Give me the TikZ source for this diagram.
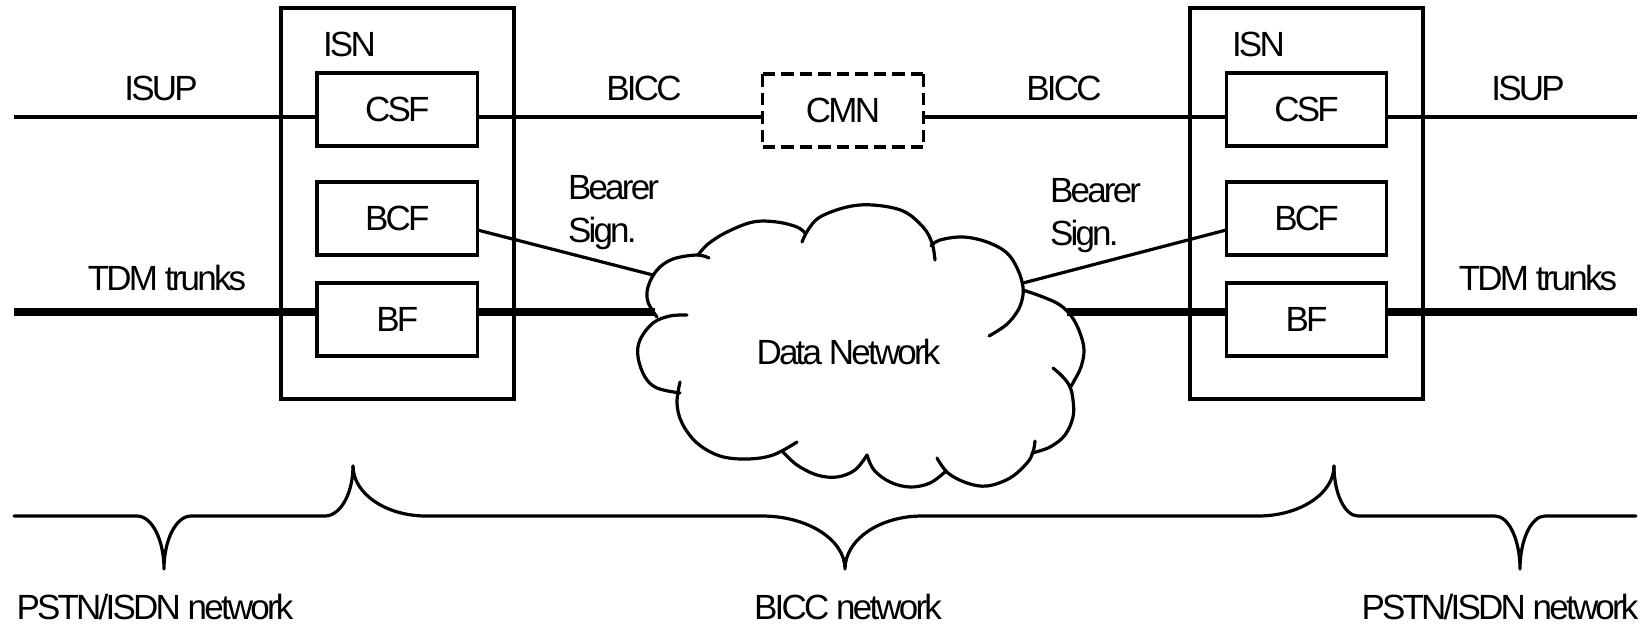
\documentclass[tikz,border=0pt]{standalone}
\usepackage{fontspec}
\setmainfont{Liberation Sans}[LetterSpace=-8.0]
\begin{document}
\begin{tikzpicture}[x=1pt, y=-1pt,
  every node/.style={inner sep=0pt, outer sep=0pt, font=\fontsize{35}{43}\selectfont},
  frame/.style={draw, line width=3.2pt},
  fnbox/.style={frame, minimum width=160.5pt, minimum height=73pt},
  isnbox/.style={frame, minimum width=233pt, minimum height=391pt},
  sigline/.style={line width=3.2pt},
  trunkline/.style={line width=8.5pt},
  cmnedge/.style={line width=3.2pt, dash pattern=on 12.5pt off 6pt},
  cloudline/.style={line width=3.2pt, line cap=round, line join=round},
  braceline/.style={line width=3.2pt, line cap=round, line join=round},
  lbl/.style={anchor=base},
  lblw/.style={anchor=base west, align=left},
]
\fill[white] (0,0) rectangle (1644,625);
\useasboundingbox (0,0) rectangle (1644,625);

% ISN nodes with their functional blocks
\node[isnbox] (isnL) at (397.5,203.5) {};
\node[isnbox] (isnR) at (1306.5,203.5) {};
\node[lblw] (isnLt) at (323,56) {ISN};
\node[lblw] (isnRt) at (1232,56) {ISN};

\node[fnbox] (csfL) at (397.25,109.5) {CSF};
\node[fnbox] (bcfL) at (397.25,218.5) {BCF};
\node[fnbox] (bfL)  at (397.25,319.5) {BF};
\node[fnbox] (csfR) at (1306.5,109.5) {CSF};
\node[fnbox] (bcfR) at (1306.5,218.5) {BCF};
\node[fnbox] (bfR)  at (1306.5,319.5) {BF};

% optional call mediation node (dashed)
\node[minimum width=160.6pt, minimum height=73pt] (cmn) at (843,110.5) {CMN};
\draw[cmnedge] (cmn.north west) -- (cmn.north east);
\draw[cmnedge] (cmn.south west) -- (cmn.south east);
\draw[cmnedge] (cmn.north west) -- (cmn.south west);
\draw[cmnedge] (cmn.north east) -- (cmn.south east);

% free ends of the signalling and trunk lines
\coordinate (isupW) at (14,117);
\coordinate (isupE) at (1637,117);
\coordinate (tdmW) at (14,312);
\coordinate (tdmE) at (1637,312);

% attachment points on the data network cloud
\coordinate (dnW) at (655,312);
\coordinate (dnE) at (1067,312);
\coordinate (dnNW) at (653,275);
\coordinate (dnNE) at (1023,283);

% call control signalling
\draw[sigline] (isupW) -- (isupW -| csfL.west);
\draw[sigline] (isupW -| csfL.east) -- (isupW -| cmn.west);
\draw[sigline] (isupW -| cmn.east) -- (isupW -| csfR.west);
\draw[sigline] (isupE -| csfR.east) -- (isupE);

% bearer paths
\draw[trunkline] (tdmW) -- (tdmW -| bfL.west);
\draw[trunkline] (tdmW -| bfL.east) -- (dnW);
\draw[trunkline] (dnE) -- (tdmE -| bfR.west);
\draw[trunkline] (tdmE -| bfR.east) -- (tdmE);

% bearer control signalling
\draw[sigline] ([yshift=-11.5pt]bcfL.east) -- (dnNW);
\draw[sigline] (dnNE) -- ([yshift=-11.5pt]bcfR.west);

% data network cloud, bump by bump
\draw[cloudline] plot[smooth, tension=0.6] coordinates {(709,258) (697,255) (673,259) (657,270) (648,287) (648,302) (657,317)};
\draw[cloudline] plot[smooth, tension=0.6] coordinates {(698,255) (708,244) (727,232) (753,222) (777,222) (797,227) (805,233)};
\draw[cloudline] plot[smooth, tension=0.6] coordinates {(802,242) (808,230) (820,217) (847,207) (873,205) (903,211) (923,227) (932,243) (935,260)};
\draw[cloudline] plot[smooth, tension=0.6] coordinates {(931,246) (940,240) (963,237) (987,242) (1007,253) (1018,270) (1023,287) (1022,300) (1017,312) (1006,325) (989,336)};
\draw[cloudline] plot[smooth, tension=0.6] coordinates {(1023,290) (1043,297) (1060,305) (1072,317) (1080,333) (1084,350) (1081,367) (1074,381) (1070,388)};
\draw[cloudline] plot[smooth, tension=0.6] coordinates {(1053,368) (1063,377) (1070,387) (1073,400) (1073,417) (1065,435) (1050,447) (1032,453)};
\draw[cloudline] plot[smooth, tension=0.6] coordinates {(937,458) (948,473) (967,483) (987,486) (1010,478) (1027,463) (1033,452) (1035,441)};
\draw[cloudline] plot[smooth, tension=0.6] coordinates {(867,455) (874,470) (890,482) (910,487) (930,483) (946,471)};
\draw[cloudline] plot[smooth, tension=0.6] coordinates {(783,452) (797,465) (817,475) (837,477) (855,470) (867,455)};
\draw[cloudline] plot[smooth, tension=0.6] coordinates {(680,382) (677,403) (682,423) (697,443) (720,456) (747,459) (773,455) (797,442)};
\draw[cloudline] plot[smooth, tension=0.6] coordinates {(687,315) (670,316) (653,323) (640,340) (638,357) (645,377) (657,388) (680,393)};
\node[lbl] (dn) at (848.5,364) {Data Network};

% line labels
\node[lbl] (isupLt) at (161,100) {ISUP};
\node[lbl] (isupRt) at (1528,100) {ISUP};
\node[lbl] (biccLt) at (644,100) {BICC};
\node[lbl] (biccRt) at (1064,100) {BICC};
\node[lbl] (tdmLt) at (167,290) {TDM trunks};
\node[lbl] (tdmRt) at (1538,290) {TDM trunks};
% base anchor of a two-line label sits on its last line
\node[lblw] (bsL) at (568,242) {Bearer\\Sign.};
\node[lblw] (bsR) at (1050,245) {Bearer\\Sign.};

% network extent braces
\draw[braceline] (14,516) -- (137,516)
  .. controls (151.9,516) and (164,539.8) .. (164,569)
  .. controls (164,539.8) and (176.1,516) .. (191,516)
  -- (325,516)
  .. controls (340.4,516) and (353,493.5) .. (353,466);
\draw[braceline] (353,466)
  .. controls (353,493.5) and (385.9,516) .. (426,516)
  -- (762,516)
  .. controls (807.7,516) and (845,539.8) .. (845,569)
  .. controls (845,539.8) and (879.6,516) .. (922,516)
  -- (1258,516)
  .. controls (1299.8,516) and (1334,493.5) .. (1334,466);
\draw[braceline] (1334,466)
  .. controls (1334,493.5) and (1344.8,516) .. (1358,516)
  -- (1495,516)
  .. controls (1508.75,516) and (1520,539.8) .. (1520,569)
  .. controls (1520,539.8) and (1531.25,516) .. (1545,516)
  -- (1636,516);

\node[lbl] (pstnL) at (155,619) {PSTN/ISDN network};
\node[lbl] (biccnet) at (848,619) {BICC network};
\node[lbl] (pstnR) at (1500,619) {PSTN/ISDN network};
\end{tikzpicture}
\end{document}
